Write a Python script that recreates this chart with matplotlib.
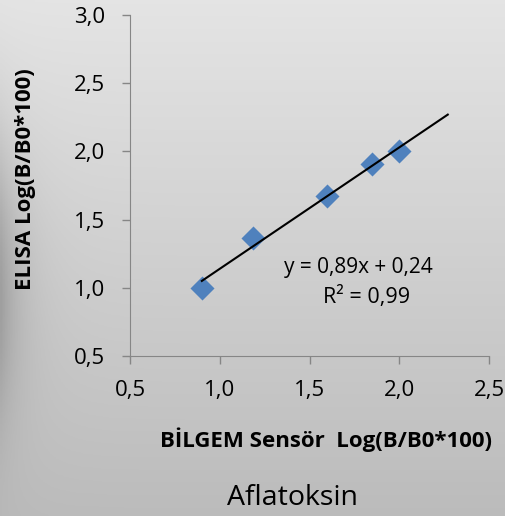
import numpy as np
import matplotlib.pyplot as plt

# data
sensor = [0.90, 1.185, 1.597, 1.848, 1.999]
elisa = [1.00, 1.368, 1.676, 1.904, 2.00]
trend_end = 2.27
x_ticks = [0.5, 1.0, 1.5, 2.0, 2.5]
y_ticks = [0.5, 1.0, 1.5, 2.0, 2.5, 3.0]

plt.rcParams["font.family"] = ["Open Sans", "DejaVu Sans"]

fig = plt.figure(figsize=(5.06, 5.16), dpi=100)

# gray gradient background with a soft shadow on the left edge
bg = fig.add_axes([0, 0, 1, 1])
h, w = 200, 200
yy = np.linspace(0, 1, h)[:, None]
xx = np.linspace(0, 1, w)[None, :]
val = 0.895 - 0.16 * yy + 0 * xx
shadow = np.exp(-xx / 0.045) * np.exp(-((yy - 0.55) / 0.28) ** 2) * 0.18
val = val - shadow
bg.imshow(np.dstack([val, val, val]), aspect="auto", extent=[0, 1, 1, 0])
bg.set_axis_off()

ax = fig.add_axes([0.257, 0.31, 0.7095, 0.661])
ax.patch.set_alpha(0)

ax.scatter(sensor, elisa, marker="D", s=150, color="#4F81BD", zorder=3,
           linewidths=0)

slope, icpt = np.polyfit(sensor, elisa, 1)
tx = np.array([min(sensor), trend_end])
ax.plot(tx, slope * tx + icpt, color="black", lw=1.5, zorder=4)

ax.text(1.77, 1.15, "y = 0,89x + 0,24", ha="center", va="center", fontsize=15)
ax.text(1.82, 0.93, "R² = 0,99", ha="center", va="center", fontsize=15.5)

ax.set_xlim(0.5, 2.5)
ax.set_ylim(0.5, 3.0)
ax.set_xticks(x_ticks)
ax.set_yticks(y_ticks)
ax.set_xticklabels([f"{v:.1f}".replace(".", ",") for v in x_ticks])
ax.set_yticklabels([f"{v:.1f}".replace(".", ",") for v in y_ticks])
ax.tick_params(direction="out", length=6, width=1, color="#868686",
               labelsize=16)
ax.tick_params(axis="x", pad=11)
ax.tick_params(axis="y", pad=12)
for s in ["top", "right"]:
    ax.spines[s].set_visible(False)
for s in ["left", "bottom"]:
    ax.spines[s].set_color("#868686")

ax.set_xlabel("BİLGEM Sensör  Log(B/B0*100)", fontsize=16, fontweight="bold")
ax.xaxis.set_label_coords(0.546, -0.246)
ax.xaxis.label.set_va("center")
ax.set_ylabel("ELISA Log(B/B0*100)", fontsize=16, fontweight="bold")
ax.yaxis.set_label_coords(-0.29, 0.519)
ax.yaxis.label.set_va("center")
fig.text(0.579, 0.035, "Aflatoksin", ha="center", va="center", fontsize=20.5)

fig.savefig("out.png", dpi=100)
